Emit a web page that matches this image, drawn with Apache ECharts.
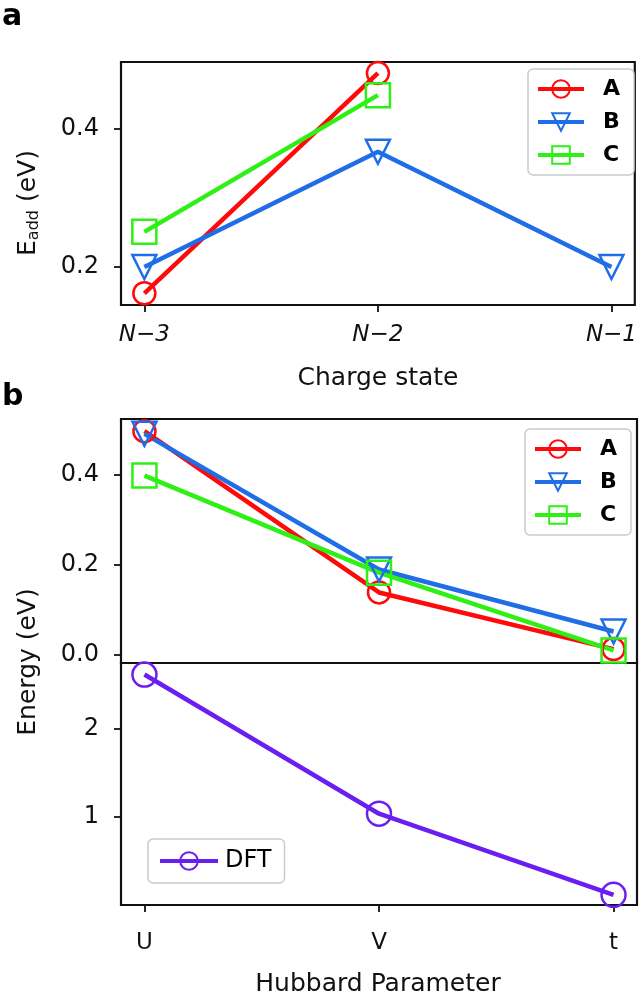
<!DOCTYPE html>
<html>
<head>
<meta charset="utf-8">
<script src="https://cdn.jsdelivr.net/npm/echarts@6/dist/echarts.min.js"></script>
<style>html,body{margin:0;padding:0;background:#fff}#c{width:640px;height:1000px}</style>
</head>
<body>
<div id="c"></div>
<script>
// ---- data ----
const chargeStates = ['N\u22123', 'N\u22122', 'N\u22121'];
const aA = [0.162, 0.481, null];
const aB = [0.200, 0.367, 0.200];
const aC = [0.251, 0.449, null];
const hubbardParams = ['U', 'V', 't'];
const bA = [0.497, 0.138, 0.012];
const bB = [0.491, 0.189, 0.051];
const bC = [0.398, 0.182, 0.009];
const dftVals = [2.61, 1.04, 0.125];
const ticksA = [0.2, 0.4];
const ticksBUpper = [0.0, 0.2, 0.4];
const ticksBLower = [1, 2];
const catIdx = [0, 1, 2];

const RED = '#ff0a0a', BLUE = '#1f6ee6', GREEN = '#2ef014', PURPLE = '#6a1ef0';
const FONT = 'DejaVu Sans';

function pts(vals) { return vals.map((v, i) => [i, v]); }
function lineSeries(name, vals, color, symbol, size, xi, yi) {
  return {
    type: 'line', name: name, xAxisIndex: xi, yAxisIndex: yi,
    data: pts(vals), symbol: symbol, symbolSize: size,
    symbolRotate: symbol === 'triangle' ? 180 : 0,
    showAllSymbol: true, connectNulls: false,
    lineStyle: { color: color, width: 4.5 },
    itemStyle: { color: 'rgba(255,255,255,0)', borderColor: color, borderWidth: 2.5 },
    emphasis: { disabled: true }
  };
}
function xAx(gi, labels, show, margin, italic) {
  return {
    type: 'value', gridIndex: gi, min: -0.1, max: 2.1,
    axisLine: { show: false, onZero: false }, splitLine: { show: false },
    axisTick: { show: show, customValues: catIdx, length: 7, lineStyle: { color: '#111', width: 1.8 } },
    axisLabel: {
      show: show, customValues: catIdx, margin: margin,
      formatter: v => labels[Math.round(v)],
      fontFamily: FONT, fontSize: 23, color: '#111', fontStyle: italic ? 'italic' : 'normal'
    }
  };
}
function yAx(gi, min, max, ticks, dec) {
  return {
    type: 'value', gridIndex: gi, min: min, max: max,
    axisLine: { show: false, onZero: false }, splitLine: { show: false },
    axisTick: { show: true, customValues: ticks, length: 7, lineStyle: { color: '#111', width: 1.8 } },
    axisLabel: {
      customValues: ticks, margin: 22,
      formatter: v => v.toFixed(dec),
      fontFamily: FONT, fontSize: 24, color: '#111'
    }
  };
}
function legendAt(left, top, names) {
  return {
    orient: 'vertical', left: left, top: top, data: names,
    itemWidth: 46, itemHeight: 22, itemGap: 11,
    padding: [9, 14, 9, 8],
    borderColor: '#c8cccc', borderWidth: 1.5, borderRadius: 5, backgroundColor: '#fff',
    lineStyle: { width: 4 },
    itemStyle: { borderWidth: 2 },
    textStyle: { fontFamily: FONT, fontSize: 22, fontWeight: 'bold', color: '#000', padding: [0, 0, 0, 14] },
    selectedMode: false
  };
}

const grid = { show: true, borderColor: '#111', borderWidth: 2.2, backgroundColor: 'rgba(0,0,0,0)' };

const option = {
  animation: false,
  backgroundColor: '#fff',
  grid: [
    Object.assign({ left: 121, top: 62, width: 516, height: 243 }, grid),
    Object.assign({ left: 121, top: 419, width: 516, height: 244 }, grid),
    Object.assign({ left: 121, top: 663, width: 516, height: 242 }, grid)
  ],
  xAxis: [
    xAx(0, chargeStates, true, 19, true),
    xAx(1, hubbardParams, false, 16, false),
    xAx(2, hubbardParams, true, 27, false)
  ],
  yAxis: [
    yAx(0, 0.145, 0.497, ticksA, 1),
    yAx(1, -0.019, 0.524, ticksBUpper, 1),
    yAx(2, 0.01, 2.74, ticksBLower, 0)
  ],
  legend: [
    legendAt(528, 69, ['A', 'B', 'C']),
    legendAt(525, 429, ['A', 'B', 'C']),
    {
      orient: 'vertical', left: 148, top: 839, data: ['DFT'],
      itemWidth: 58, itemHeight: 22, padding: [10, 13, 10, 10],
      borderColor: '#c8cccc', borderWidth: 1.5, borderRadius: 5, backgroundColor: '#fff',
      lineStyle: { width: 4 },
      itemStyle: { borderWidth: 2 },
      textStyle: { fontFamily: FONT, fontSize: 24, color: '#000', padding: [0, 0, 0, 2] },
      selectedMode: false
    }
  ],
  series: [
    lineSeries('A', aA, RED, 'circle', 22, 0, 0),
    lineSeries('B', aB, BLUE, 'triangle', 24, 0, 0),
    lineSeries('C', aC, GREEN, 'rect', 24, 0, 0),
    lineSeries('A', bA, RED, 'circle', 22, 1, 1),
    lineSeries('B', bB, BLUE, 'triangle', 24, 1, 1),
    lineSeries('C', bC, GREEN, 'rect', 24, 1, 1),
    lineSeries('DFT', dftVals, PURPLE, 'circle', 24, 2, 2)
  ],
  graphic: [
    { type: 'text', left: 2, top: 2, style: { text: 'a', font: 'bold 30px "DejaVu Sans"', fill: '#000' } },
    { type: 'text', left: 2, top: 382, style: { text: 'b', font: 'bold 30px "DejaVu Sans"', fill: '#000' } },
    { type: 'text', x: 378, y: 378, style: { text: 'Charge state', font: '25px "DejaVu Sans"', fill: '#111', align: 'center', verticalAlign: 'middle' } },
    { type: 'text', x: 378, y: 984, style: { text: 'Hubbard Parameter', font: '25px "DejaVu Sans"', fill: '#111', align: 'center', verticalAlign: 'middle' } },
    { type: 'text', x: 28, y: 662, rotation: Math.PI / 2, style: { text: 'Energy (eV)', font: '25px "DejaVu Sans"', fill: '#111', align: 'center', verticalAlign: 'middle' } },
    { type: 'text', x: 28, y: 203, rotation: Math.PI / 2, style: {
        text: '{e|E}{s|add}{e| (eV)}', align: 'center', verticalAlign: 'middle', fill: '#111',
        rich: {
          e: { fontFamily: FONT, fontSize: 25, lineHeight: 32, verticalAlign: 'middle', fill: '#111' },
          s: { fontFamily: FONT, fontSize: 16, lineHeight: 32, verticalAlign: 'bottom', fill: '#111', padding: [0, 0, 2, 0] }
        }
    } }
  ]
};
echarts.init(document.getElementById('c')).setOption(option);
</script>
</body>
</html>
